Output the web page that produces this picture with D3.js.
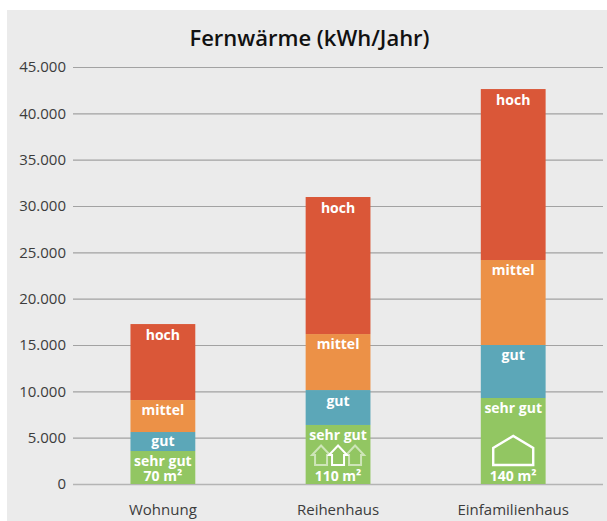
<!DOCTYPE html>
<html>
<head>
<meta charset="utf-8">
<script src="https://cdn.jsdelivr.net/npm/d3@7"></script>
<style>
  html, body { margin: 0; background: #fff; }
  text { font-family: "Open Sans", sans-serif; }
</style>
</head>
<body>
<div id="chart"></div>
<script>
const WIDTH = 607;
const HEIGHT = 521;

const categories = ["Wohnung", "Reihenhaus", "Einfamilienhaus"];
const levels = ["sehr gut", "gut", "mittel", "hoch"];
const sizes = ["70 m²", "110 m²", "140 m²"];

// segment heights per category
const sehrGut = [3560, 6370, 9280];
const gut = [2050, 3770, 5720];
const mittel = [3450, 6040, 9170];
const hoch = [8200, 14790, 18450];

const yTicks = [0, 5000, 10000, 15000, 20000, 25000, 30000, 35000, 40000, 45000];
const levelColors = ["#92c662", "#5ca7b8", "#ec9147", "#da5738"];

const rows = categories.map((c, i) => ({
  category: c,
  "sehr gut": sehrGut[i],
  "gut": gut[i],
  "mittel": mittel[i],
  "hoch": hoch[i]
}));

const svg = d3.select("#chart").append("svg")
  .attr("width", WIDTH)
  .attr("height", HEIGHT)
  .style("display", "block");

svg.append("rect")
  .attr("x", 7).attr("y", 10)
  .attr("width", 600).attr("height", 511)
  .attr("fill", "#ebebeb");

const x = d3.scaleBand().domain(categories).range([75.3, 600.8]).paddingInner(0.63).paddingOuter(0.315);
const y = d3.scaleLinear().domain([0, 45000]).range([484, 67]);

// axis
const yAxis = d3.axisLeft(y)
  .tickValues(yTicks)
  .tickSize(-530)
  .tickPadding(7)
  .tickFormat(d => d === 0 ? "0" : d3.format(",")(d).replace(",", "."));

const axisG = svg.append("g")
  .attr("transform", "translate(73,0)")
  .call(yAxis);
axisG.select(".domain").remove();
axisG.selectAll("line").attr("stroke", d => d === 0 ? "#b4b4b4" : "#a2a2a2").attr("stroke-width", d => d === 0 ? 1.6 : 1.2);
axisG.selectAll("text")
  .attr("fill", "#3c3c3c")
  .style("font-size", "15px");

svg.append("text")
  .attr("x", 309.5).attr("y", 46)
  .attr("text-anchor", "middle")
  .attr("fill", "#111")
  .style("font-size", "22px")
  .style("font-weight", 600)
  .text("Fernwärme (kWh/Jahr)");

// bars
const series = d3.stack().keys(levels)(rows);

svg.append("g").selectAll("g")
  .data(series)
  .enter().append("g")
  .attr("fill", (d, i) => levelColors[i])
  .selectAll("rect")
  .data(d => d)
  .enter().append("rect")
  .attr("x", d => x(d.data.category))
  .attr("y", d => y(d[1]))
  .attr("width", x.bandwidth())
  .attr("height", d => y(d[0]) - y(d[1]));

// level names near the top of each segment
const labels = svg.append("g")
  .attr("text-anchor", "middle")
  .attr("fill", "#fff")
  .style("font-size", "14px")
  .style("font-weight", 700);

const gutOffsets = [14, 16, 15];

series.forEach(s => {
  s.forEach((d, i) => {
    let dy = 15;
    if (s.key === "gut") dy = gutOffsets[i];
    if (s.key === "hoch") dy = 16;
    labels.append("text")
      .attr("x", x(d.data.category) + x.bandwidth() / 2)
      .attr("y", y(d[1]) + dy)
      .text(s.key);
  });
});

// m² labels at the foot of the bars
rows.forEach((r, i) => {
  labels.append("text")
    .attr("x", x(r.category) + x.bandwidth() / 2)
    .attr("y", y(0) - 3)
    .text(sizes[i]);
});

// house icons
const cx1 = x(categories[1]) + x.bandwidth() / 2;
const cx2 = x(categories[2]) + x.bandwidth() / 2;

const housePath = "M-6,10 V0 H-9 L0,-9.5 L9,0 H6 V10 Z";
[-17, 17, 0].forEach(dx => {
  svg.append("path")
    .attr("d", housePath)
    .attr("transform", `translate(${cx1 + dx},${y(0) - 29})`)
    .attr("fill", "none")
    .attr("stroke", "#fff")
    .attr("stroke-opacity", dx === 0 ? 1 : 0.55)
    .attr("stroke-width", 2);
});

svg.append("path")
  .attr("d", "M-20,17 V0 L0,-12 L20,0 V17 Z")
  .attr("transform", `translate(${cx2},${y(0) - 36})`)
  .attr("fill", "none")
  .attr("stroke", "#fff")
  .attr("stroke-width", 2.4);

// category labels
svg.append("g")
  .attr("text-anchor", "middle")
  .attr("fill", "#3c3c3c")
  .style("font-size", "15px")
  .selectAll("text")
  .data(categories)
  .enter().append("text")
  .attr("x", d => x(d) + x.bandwidth() / 2)
  .attr("y", 515)
  .text(d => d);
</script>
</body>
</html>
